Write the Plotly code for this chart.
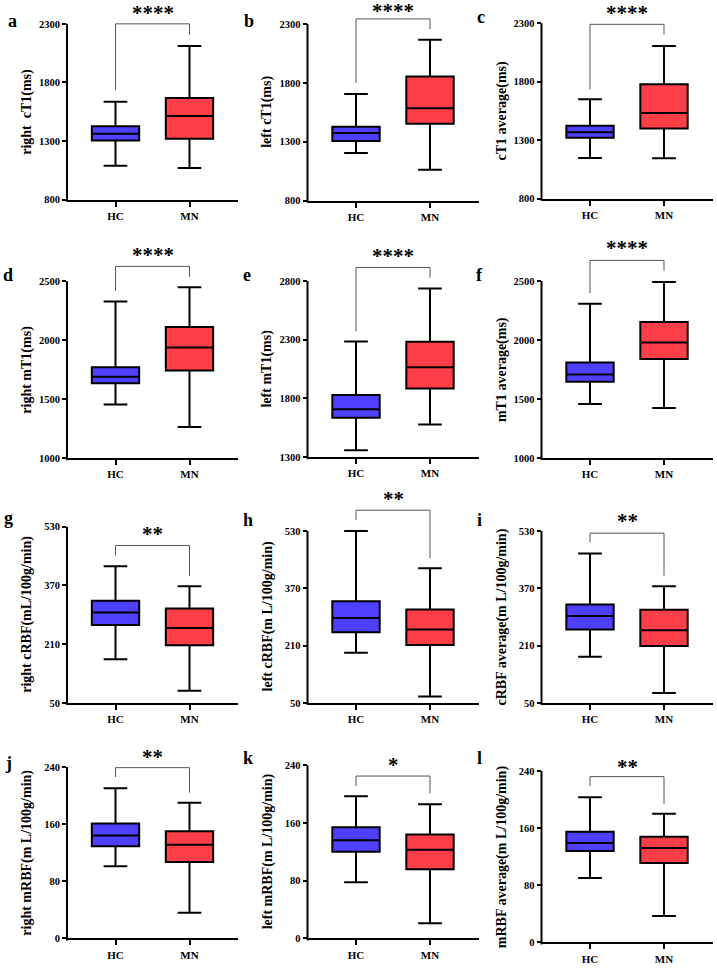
import plotly.graph_objects as go

# ---------------- data ----------------
groups = ["HC", "MN"]
panel_letters = ["a", "b", "c", "d", "e", "f", "g", "h", "i", "j", "k", "l"]
y_titles = [
    "right  cT1(ms)", "left cT1(ms)", "cT1 average(ms)",
    "right mT1(ms)", "left mT1(ms)", "mT1 average(ms)",
    "right cRBF(mL/100g/min)", "left cRBF(m L/100g/min)", "cRBF average(m L/100g/min)",
    "right mRBF(m L/100g/min)", "left mRBF(m L/100g/min)", "mRBF average(m L/100g/min)",
]
y_ticks = [
    [800, 1300, 1800, 2300], [800, 1300, 1800, 2300], [800, 1300, 1800, 2300],
    [1000, 1500, 2000, 2500], [1300, 1800, 2300, 2800], [1000, 1500, 2000, 2500],
    [50, 210, 370, 530], [50, 210, 370, 530], [50, 210, 370, 530],
    [0, 80, 160, 240], [0, 80, 160, 240], [0, 80, 160, 240],
]
# [lower whisker, Q1, median, Q3, upper whisker]
hc_stats = [
    [1091, 1306, 1362, 1427, 1636],
    [1205, 1307, 1374, 1428, 1706],
    [1148, 1321, 1369, 1423, 1649],
    [1455, 1635, 1691, 1770, 2329],
    [1359, 1635, 1708, 1829, 2285],
    [1458, 1646, 1708, 1809, 2306],
    [169, 262, 296, 328, 422],
    [190, 247, 287, 334, 530],
    [179, 255, 293, 325, 467],
    [101, 129, 144, 161, 210],
    [78, 120, 136, 154, 197],
    [90, 128, 139, 155, 203],
]
mn_stats = [
    [1071, 1320, 1515, 1667, 2111],
    [1062, 1453, 1585, 1853, 2165],
    [1145, 1400, 1533, 1779, 2105],
    [1264, 1744, 1938, 2112, 2449],
    [1579, 1885, 2066, 2282, 2735],
    [1424, 1840, 1978, 2152, 2492],
    [83, 207, 254, 307, 368],
    [68, 212, 255, 311, 426],
    [78, 209, 253, 310, 376],
    [36, 107, 131, 150, 190],
    [21, 96, 123, 144, 186],
    [37, 111, 132, 148, 180],
]
significance = ["****", "****", "****", "****", "****", "****",
                "**", "**", "**", "**", "*", "**"]
# bracket: [HC foot, top, MN foot], star label level
bracket_levels = [
    [1735, 2300, 2207], [1799, 2342, 2255], [1734, 2290, 2201],
    [2419, 2626, 2537], [2372, 2915, 2828], [2396, 2674, 2587],
    [451, 479, 396], [561, 588, 454], [498, 524, 405],
    [226, 239, 204], [211, 225, 201], [219, 232, 194],
]
star_levels = [2390, 2410, 2385, 2719, 3011, 2775, 509, 619, 558, 254, 240, 246]

# ---------------- layout geometry (pixels) ----------------
W, H = 717, 969
col_left = [67, 307.5, 541.5]
plot_w = 171
hc_off = 48.5
unit_px = 74
panel_px = [(201, 24), (202, 24), (200, 23.3),
            (461, 283), (460, 282.7), (461, 282.7),
            (707.3, 530), (707.3, 534.3), (707.3, 534.3),
            (944.3, 771.7), (944.3, 770), (948.3, 775.7)]
letter_px = [(13, 21), (249, 21), (481, 17),
             (8, 277), (247, 277), (479, 277),
             (8, 521), (248, 523), (479, 523),
             (8, 768), (248, 763), (479, 763)]
max_ext = 0.17

FONT = "Liberation Serif"
HC_COLOR = "#4F3FFF"
MN_COLOR = "#FF3F48"

fig = go.Figure()
layout_upd = {}
annotations = []
shapes = []

for i in range(12):
    r, c = divmod(i, 3)
    n = "" if i == 0 else str(i + 1)
    xa, ya = "x" + n, "y" + n
    lo, hi = y_ticks[i][0], y_ticks[i][-1]
    B, T = panel_px[i]
    ext = min(max_ext, (T - 1) / (B - T))
    top = hi + ext * (hi - lo)
    Te = T - ext * (B - T)
    x0 = col_left[c]

    layout_upd["xaxis" + n] = dict(
        domain=[x0 / W, (x0 + plot_w) / W],
        range=[-hc_off / unit_px, (plot_w - hc_off) / unit_px],
        anchor=ya, tickmode="array", tickvals=[0, 1], ticktext=groups,
        showline=True, linewidth=2, linecolor="black",
        ticks="outside", ticklen=5, tickwidth=2, tickcolor="black",
        showgrid=False, zeroline=False, fixedrange=True,
        tickfont=dict(family=FONT, size=11, color="black", weight="bold"),
    )
    layout_upd["yaxis" + n] = dict(
        domain=[max(0, 1 - B / H), min(1, 1 - Te / H)],
        range=[lo, top], anchor=xa, tickmode="array", tickvals=y_ticks[i],
        showline=False, ticks="outside", ticklen=4, tickwidth=2, tickcolor="black",
        showgrid=False, zeroline=False, fixedrange=True,
        tickfont=dict(family=FONT, size=10.5, color="black", weight="bold"),
    )

    for pos, stats, col in ((0, hc_stats[i], HC_COLOR), (1, mn_stats[i], MN_COLOR)):
        fig.add_trace(go.Box(
            x=[pos], lowerfence=[stats[0]], q1=[stats[1]], median=[stats[2]],
            q3=[stats[3]], upperfence=[stats[4]], orientation="v",
            fillcolor=col, line=dict(color="black", width=2),
            width=0.64, whiskerwidth=0.5, boxpoints=False,
            xaxis=xa, yaxis=ya, showlegend=False, hoverinfo="skip",
        ))

    bl = bracket_levels[i]
    fig.add_trace(go.Scatter(
        x=[0, 0, 1, 1], y=[bl[0], bl[1], bl[1], bl[2]], mode="lines",
        line=dict(color="#555555", width=1), xaxis=xa, yaxis=ya,
        showlegend=False, hoverinfo="skip", cliponaxis=False,
    ))

    # significance stars (domain-referenced so they are never hidden)
    annotations.append(dict(
        x=0.5, y=(star_levels[i] - lo) / (top - lo), xref=xa, yref=ya + " domain",
        text=significance[i], showarrow=False, yanchor="middle", xanchor="center",
        font=dict(family=FONT, size=21, color="black", weight="bold"),
    ))

    # y axis line up to top tick
    frac_hi = (hi - lo) / (top - lo)
    shapes.append(dict(
        type="line", xref=xa + " domain", yref=ya + " domain",
        x0=0, x1=0, y0=-2 / (B - Te), y1=frac_hi,
        line=dict(color="black", width=2),
    ))

    # y title
    annotations.append(dict(
        x=(x0 - 40) / W, y=1 - ((B + T) / 2) / H, xref="paper", yref="paper",
        text=y_titles[i], textangle=-90, showarrow=False,
        xanchor="center", yanchor="middle",
        font=dict(family=FONT, size=14, color="black", weight="bold"),
    ))
    lx, ly = letter_px[i]
    annotations.append(dict(
        x=lx / W, y=1 - ly / H, xref="paper", yref="paper",
        text=panel_letters[i], showarrow=False,
        xanchor="center", yanchor="middle",
        font=dict(family=FONT, size=18, color="black", weight="bold"),
    ))

fig.update_layout(
    width=W, height=H, margin=dict(l=0, r=0, t=0, b=0),
    paper_bgcolor="white", plot_bgcolor="white",
    boxmode="overlay", annotations=annotations, shapes=shapes,
    **layout_upd,
)

fig.write_html("out.html", config={"displayModeBar": False})
